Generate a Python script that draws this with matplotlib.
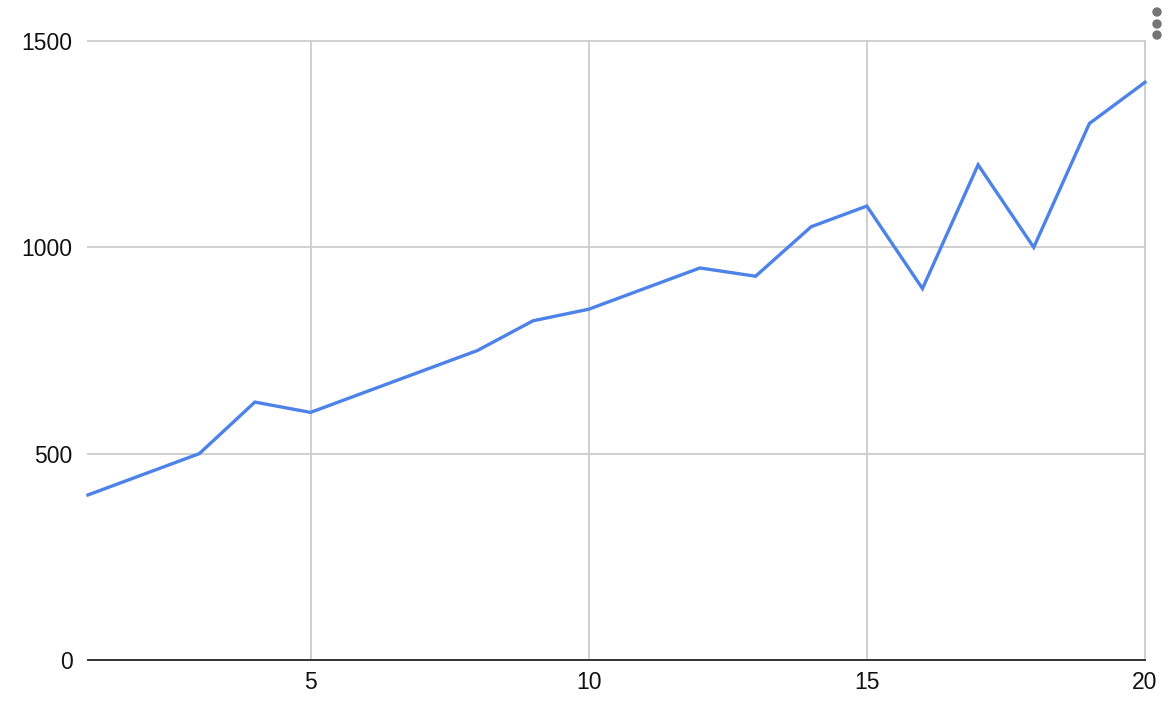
import matplotlib.pyplot as plt
from matplotlib.patches import Ellipse

plt.rcParams['font.family'] = ['Liberation Sans', 'DejaVu Sans']

# data
x = [1, 2, 3, 4, 5, 6, 7, 8, 9, 10, 11, 12, 13, 14, 15, 16, 17, 18, 19, 20]
y = [400, 450, 500, 625, 600, 650, 700, 750, 822, 850, 900, 950, 930, 1050,
     1100, 900, 1200, 1000, 1300, 1400]
xticks = [5, 10, 15, 20]
yticks = [0, 500, 1000, 1500]

fig = plt.figure(figsize=(11.7, 7.2), dpi=100)
ax = fig.add_axes([88 / 1170, 1 - 660 / 720, (1145 - 88) / 1170, (660 - 41) / 720])

ax.plot(x, y, color='#4d82e8', linewidth=2.4, solid_joinstyle='miter', clip_on=False, zorder=3)

ax.set_xlim(1, 20)
ax.set_ylim(0, 1500)
ax.set_xticks(xticks)
ax.set_yticks(yticks)
ax.grid(True, color='#cccccc', linewidth=1.3)
for gl in ax.get_xgridlines() + ax.get_ygridlines():
    gl.set_clip_on(False)
ax.set_axisbelow(True)

for s in ['top', 'right', 'left']:
    ax.spines[s].set_visible(False)
ax.spines['bottom'].set_color('#333333')
ax.spines['bottom'].set_linewidth(1.4)
ax.spines['bottom'].set_zorder(4)

ax.tick_params(length=0, labelsize=16.5, colors='#111111')
ax.tick_params(axis='y', pad=11)
ax.tick_params(axis='x', pad=8)

# menu dots top right
for cy in [12, 24, 35]:
    fig.patches.append(Ellipse((1157 / 1170, 1 - cy / 720), 8 / 1170, 8 / 720,
                               transform=fig.transFigure, color='#757575'))

fig.savefig('out.png', dpi=100)
